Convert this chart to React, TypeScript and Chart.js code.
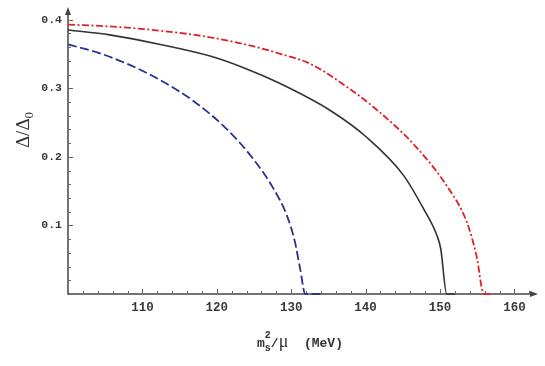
import React, { useEffect, useRef } from "react";
import { Chart, registerables } from "chart.js";
Chart.register(...registerables);

// ---- data ----
const xTickLabels = [110, 120, 130, 140, 150, 160];
const yTickLabels = [0.1, 0.2, 0.3, 0.4];

const blueX = [100, 104, 107.9, 112.4, 116.8, 121.3, 124.9, 127.6, 129.4, 130.5, 131.2, 131.9, 134];
const blueY = [0.364, 0.352, 0.336, 0.312, 0.282, 0.241, 0.197, 0.154, 0.115, 0.076, 0.037, 0, 0];

const blackX = [100, 105.6, 112.4, 119.1, 123.6, 128.3, 135.2, 140.1, 145.1, 147.8, 149.6, 150.1, 150.9, 152];
const blackY = [0.385, 0.378, 0.364, 0.347, 0.33, 0.308, 0.268, 0.229, 0.173, 0.124, 0.085, 0.066, 0, 0];

const redX = [100, 106, 112.4, 117, 121.3, 125, 128.3, 132.5, 137.5, 141.9, 146.4, 150.9, 153.6, 154.9, 155.9, 157];
const redY = [0.393, 0.39, 0.384, 0.378, 0.37, 0.361, 0.351, 0.336, 0.302, 0.265, 0.219, 0.158, 0.105, 0.056, 0, 0];

const toPoints = (xs: number[], ys: number[]) => xs.map((x, i) => ({ x, y: ys[i] }));

const AXIS_COLOR = "#444";
const TEXT_COLOR = "#3a3a3a";
const MONO = "'Liberation Mono', 'DejaVu Sans Mono', monospace";

const axesPlugin = {
  id: "axesPlugin",
  beforeDatasetsDraw(chart: any) {
    const { ctx, chartArea, scales } = chart;
    const xs = scales.x;
    const ys = scales.y;
    const x0 = chartArea.left;
    const y0 = ys.getPixelForValue(0);
    ctx.save();
    ctx.strokeStyle = AXIS_COLOR;
    ctx.fillStyle = AXIS_COLOR;
    ctx.lineWidth = 1.5;
    // x axis
    const xEnd = chartArea.right + 2;
    ctx.beginPath();
    ctx.moveTo(x0, y0);
    ctx.lineTo(xEnd - 4, y0);
    ctx.stroke();
    ctx.beginPath();
    ctx.moveTo(xEnd + 3, y0);
    ctx.lineTo(xEnd - 5, y0 - 3);
    ctx.lineTo(xEnd - 5, y0 + 3);
    ctx.closePath();
    ctx.fill();
    // y axis
    const yTop = chartArea.top - 3;
    ctx.beginPath();
    ctx.moveTo(x0, y0 + 0.75);
    ctx.lineTo(x0, yTop + 4);
    ctx.stroke();
    ctx.beginPath();
    ctx.moveTo(x0, yTop - 3);
    ctx.lineTo(x0 - 3, yTop + 5);
    ctx.lineTo(x0 + 3, yTop + 5);
    ctx.closePath();
    ctx.fill();
    // ticks (inside)
    ctx.lineWidth = 1;
    ctx.strokeStyle = "#666";
    for (let v = 102; v <= 162; v += 2) {
      const px = Math.round(xs.getPixelForValue(v)) + 0.5;
      const major = v % 10 === 0;
      ctx.beginPath();
      ctx.moveTo(px, y0);
      ctx.lineTo(px, y0 - (major ? 5 : 3));
      ctx.stroke();
    }
    for (let k = 1; k <= 20; k++) {
      const v = k * 0.02;
      const py = Math.round(ys.getPixelForValue(v)) + 0.5;
      const major = k % 5 === 0;
      ctx.beginPath();
      ctx.moveTo(x0, py);
      ctx.lineTo(x0 + (major ? 5 : 3), py);
      ctx.stroke();
    }
    ctx.restore();
  },
  afterDraw(chart: any) {
    const { ctx } = chart;
    ctx.save();
    ctx.fillStyle = "#333";
    // y title: Δ/Δ0 rotated
    ctx.translate(24, 130);
    ctx.rotate(-Math.PI / 2);
    ctx.font = "19px 'Liberation Serif', serif";
    ctx.textBaseline = "middle";
    const main = "\u0394/\u0394";
    const subFont = "13px 'Liberation Serif', serif";
    const wMain = ctx.measureText(main).width;
    ctx.font = subFont;
    const wSub = ctx.measureText("0").width;
    const start = -(wMain + wSub) / 2;
    ctx.font = "19px 'Liberation Serif', serif";
    ctx.textAlign = "left";
    ctx.fillText(main, start, 0);
    ctx.font = subFont;
    ctx.fillText("0", start + wMain, 6);
    ctx.restore();

    // x title: m_s^2/μ  (MeV)
    ctx.save();
    ctx.fillStyle = "#333";
    ctx.textBaseline = "alphabetic";
    ctx.textAlign = "left";
    const big = `bold 13px ${MONO}`;
    const small = `bold 10px ${MONO}`;
    const mu = "18px 'Liberation Serif', serif";
    const parts = [
      { t: "m", f: big, dy: 0 },
      { t: "s", f: small, dy: 4, sup: "2" },
      { t: "/", f: big, dy: 0 },
      { t: "\u03BC", f: mu, dy: 0 },
      { t: "  (MeV)", f: big, dy: 0 },
    ];
    let total = 0;
    const widths: number[] = [];
    for (const p of parts) {
      ctx.font = p.f;
      const w = ctx.measureText(p.t).width;
      widths.push(w);
      total += w;
    }
    let cx = 300 - total / 2;
    const base = 347;
    parts.forEach((p: any, i) => {
      ctx.font = p.f;
      ctx.fillText(p.t, cx, base + p.dy);
      if (p.sup) ctx.fillText(p.sup, cx, base - 9);
      cx += widths[i];
    });
    ctx.restore();
  },
};

export default function App() {
  const ref = useRef<HTMLCanvasElement | null>(null);
  useEffect(() => {
    if (!ref.current) return;
    const chart = new Chart(ref.current, {
      type: "line",
      data: {
        datasets: [
          {
            label: "red",
            data: toPoints(redX, redY),
            borderColor: "#e0202a",
            borderWidth: 1.8,
            borderDash: [7, 2.5, 2, 2.5],
            pointRadius: 0,
            cubicInterpolationMode: "monotone",
            fill: false,
            clip: 6,
          },
          {
            label: "black",
            data: toPoints(blackX, blackY),
            borderColor: "#333333",
            borderWidth: 1.6,
            pointRadius: 0,
            cubicInterpolationMode: "monotone",
            fill: false,
            clip: 6,
          },
          {
            label: "blue",
            data: toPoints(blueX, blueY),
            borderColor: "#2b2f8f",
            borderWidth: 1.8,
            borderDash: [9, 3.5],
            pointRadius: 0,
            cubicInterpolationMode: "monotone",
            fill: false,
            clip: 6,
          },
        ],
      },
      options: {
        responsive: false,
        animation: false,
        layout: { padding: { left: 0, top: 12, right: 12, bottom: 0 } },
        plugins: { legend: { display: false }, tooltip: { enabled: false } },
        scales: {
          x: {
            type: "linear",
            min: 100,
            max: 162.5,
            afterFit: (s: any) => {
              s.height = 72;
            },
            grid: { display: false, drawTicks: false },
            border: { display: false },
            ticks: {
              stepSize: 10,
              includeBounds: false,
              autoSkip: false,
              padding: 6,
              maxRotation: 0,
              color: TEXT_COLOR,
              font: { family: MONO, size: 12.5, weight: "bold" },
              callback: (v: any) => (xTickLabels.includes(Number(v)) ? String(v) : ""),
            },
          },
          y: {
            type: "linear",
            min: 0,
            max: 0.41,
            afterFit: (s: any) => {
              s.width = 68;
            },
            grid: { display: false, drawTicks: false },
            border: { display: false },
            ticks: {
              stepSize: 0.1,
              includeBounds: false,
              autoSkip: false,
              padding: 6,
              color: TEXT_COLOR,
              font: { family: MONO, size: 11.5, weight: "bold" },
              callback: (v: any) => {
                const n = Math.round(Number(v) * 100) / 100;
                return yTickLabels.includes(n) ? n.toFixed(1) : "";
              },
            },
          },
        },
      },
      plugins: [axesPlugin],
    } as any);
    return () => chart.destroy();
  }, []);
  return (
    <div style={{ position: "absolute", left: 0, top: 0, width: 545, height: 366, background: "#fff" }}>
      <canvas ref={ref} width={545} height={366} />
    </div>
  );
}
